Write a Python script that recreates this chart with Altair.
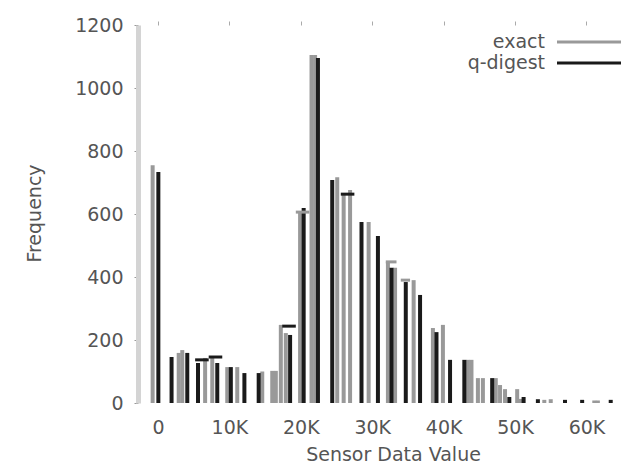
import altair as alt
import pandas as pd

# ---- data (x positions in thousands of sensor units, frequencies) ----
series_names = ["exact", "q-digest"]
series_colors = ["#999999", "#1a1a1a"]

exact_pos = [-0.75, 2.9, 3.4, 6.6, 7.6, 9.7, 11.1, 14.6, 16.0, 16.5, 17.2, 17.9,
             19.9, 21.5, 22.0, 25.1, 26.0, 26.9, 29.5, 32.2, 33.2, 35.8, 38.5,
             39.9, 43.4, 43.9, 44.8, 45.5, 47.3, 47.9, 48.6, 50.3, 50.7, 54.1,
             55.0, 61.1, 61.6]
exact_val = [755, 159, 168, 143, 143, 114, 114, 100, 102, 102, 248, 222,
             606, 1105, 1105, 717, 660, 676, 575, 448, 429, 390, 238,
             248, 137, 137, 79, 79, 79, 57, 44, 44, 13, 10,
             12, 8, 8]

qd_pos = [0.05, 1.9, 4.1, 5.6, 8.3, 10.2, 12.1, 14.1, 18.5, 20.4, 22.4, 24.4,
          28.5, 30.8, 32.7, 34.7, 36.7, 39.0, 40.9, 42.9, 46.8, 49.2, 51.2,
          53.2, 57.0, 59.4, 63.4]
qd_val = [733, 146, 159, 127, 127, 114, 95, 95, 216, 619, 1095, 708,
          575, 530, 429, 384, 343, 225, 137, 137, 79, 19, 19,
          12, 10, 10, 10]

# horizontal bucket caps
cap_start = [5.2, 7.1, 17.4, 19.3, 25.6, 31.9, 34.0]
cap_end = [7.1, 9.0, 19.3, 21.2, 27.5, 33.4, 35.3]
cap_val = [137, 146, 244, 606, 663, 448, 390]
cap_series = ["q-digest", "q-digest", "q-digest", "exact", "q-digest", "exact", "exact"]

x_ticks = [0, 10, 20, 30, 40, 50, 60]
y_ticks = [0, 200, 400, 600, 800, 1000, 1200]

# ---- tables ----
bars = pd.DataFrame({
    "pos": exact_pos + qd_pos,
    "freq": exact_val + qd_val,
    "series": ["exact"] * len(exact_pos) + ["q-digest"] * len(qd_pos),
})
caps = pd.DataFrame({"start": cap_start, "end": cap_end, "freq": cap_val, "series": cap_series})
legend_df = pd.DataFrame({"series": series_names, "row": list(range(len(series_names)))})

FONT = "DejaVu Sans"
TXT = "#555555"
FS = 19

x_scale = alt.Scale(domain=[-2.1, 64.7], nice=False, zero=False)
y_scale = alt.Scale(domain=[0, 1200], nice=False)
color_scale = alt.Scale(domain=series_names, range=series_colors)

bar_layer = alt.Chart(bars).mark_bar(size=4).encode(
    x=alt.X("pos:Q", scale=x_scale,
            axis=alt.Axis(values=x_ticks, labelExpr="datum.value == 0 ? '0' : datum.value + 'K'",
                          ticks=False, tickSize=0, domain=False, grid=False,
                          labelFont=FONT, labelFontSize=FS, labelColor=TXT, labelPadding=15,
                          title="Sensor Data Value", titleFont=FONT, titleFontSize=FS,
                          titleFontWeight="normal", titleColor=TXT,
                          titleX=255, titleY=42, titleAlign="center", titleBaseline="top")),
    y=alt.Y("freq:Q", scale=y_scale, stack=None,
            axis=alt.Axis(values=y_ticks, format="d", tickSize=4, tickColor="#999999", grid=False,
                          domainColor="#d4d4d4", domainWidth=5,
                          labelFont=FONT, labelFontSize=FS, labelColor=TXT, labelPadding=11,
                          title="Frequency", titleFont=FONT, titleFontSize=FS,
                          titleFontWeight="normal", titleColor=TXT, titleAngle=-90,
                          titleX=-104, titleY=188, titleAlign="center", titleBaseline="middle")),
    color=alt.Color("series:N", scale=color_scale, legend=None),
)

cap_layer = alt.Chart(caps).mark_rule(strokeWidth=3).encode(
    x=alt.X("start:Q", scale=x_scale,
            axis=alt.Axis(orient="top", values=x_ticks, labels=False, domain=False,
                          ticks=True, tickSize=4, tickColor="#aaaaaa", grid=False, title=None)),
    x2="end:Q",
    y=alt.Y("freq:Q", scale=y_scale),
    color=alt.Color("series:N", scale=color_scale, legend=None),
)

legend_text = alt.Chart(legend_df).transform_calculate(
    ly="1146 - 67 * datum.row"
).mark_text(align="right", baseline="middle", font=FONT, fontSize=FS, color=TXT).encode(
    x=alt.value(407),
    y=alt.Y("ly:Q", scale=y_scale),
    text="series:N",
)

legend_line = alt.Chart(legend_df).transform_calculate(
    ly="1146 - 67 * datum.row"
).mark_rule(strokeWidth=3).encode(
    x=alt.value(419),
    x2=alt.value(483),
    y=alt.Y("ly:Q", scale=y_scale),
    color=alt.Color("series:N", scale=color_scale, legend=None),
)

chart = alt.layer(bar_layer, cap_layer, legend_text, legend_line).resolve_axis(
    x="independent"
).properties(
    width=487, height=378,
    padding={"left": 130, "top": 17, "right": 3, "bottom": 60},
    autosize=alt.AutoSizeParams(type="none"),
    background="white",
).configure_view(stroke=None)

chart.save("out.html", embed_options={"renderer": "svg", "actions": False})
